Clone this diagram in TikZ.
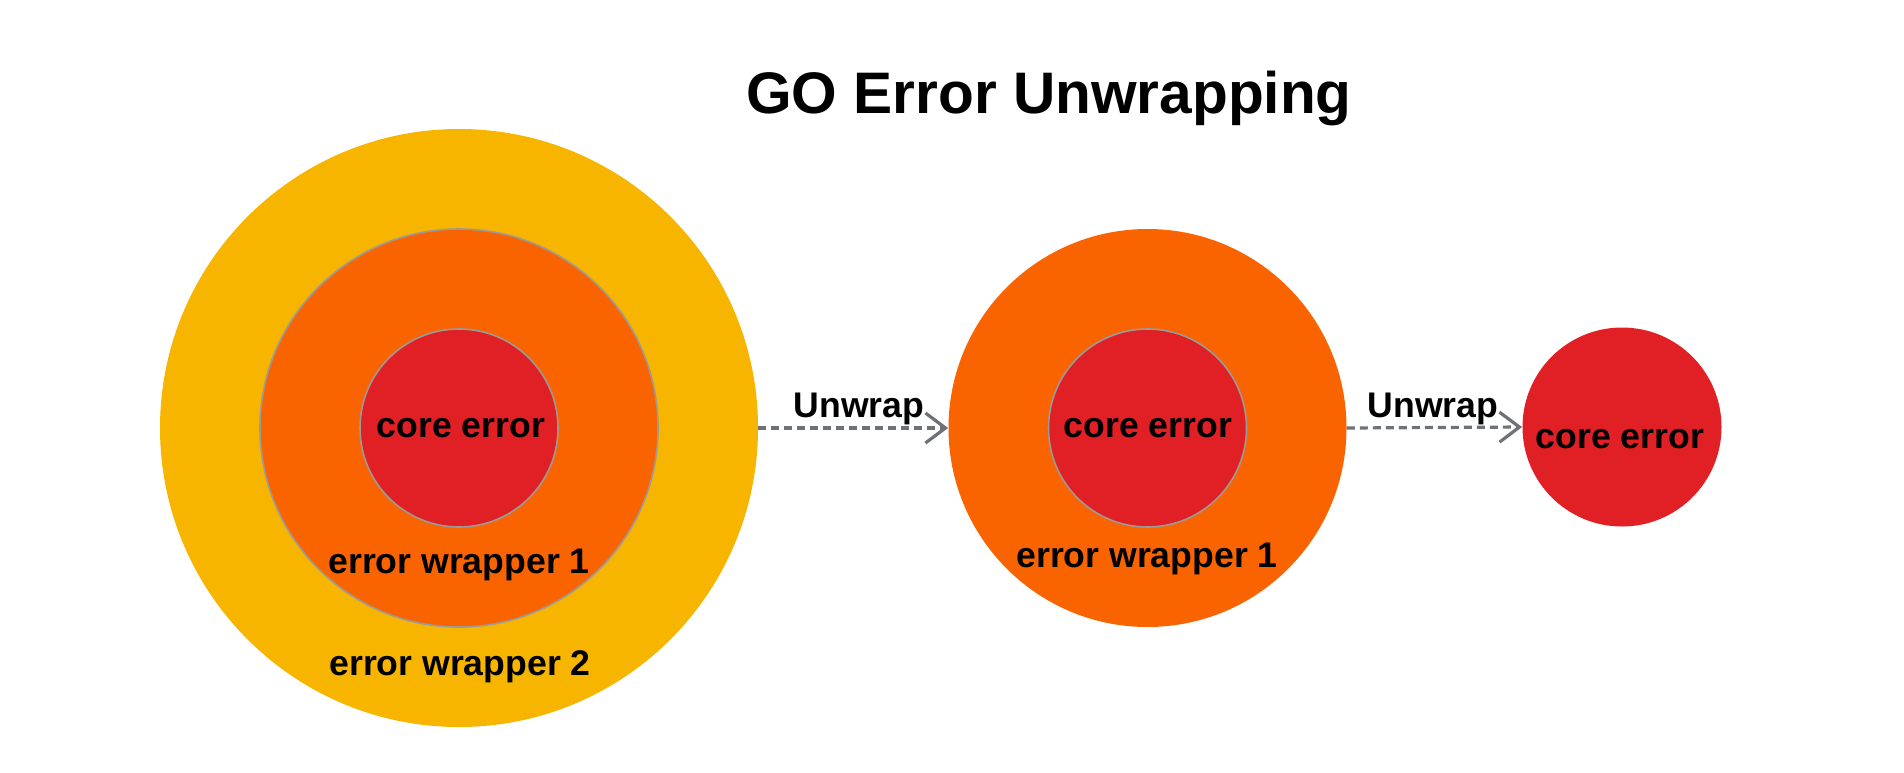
\documentclass[tikz,border=0pt]{standalone}
\usepackage{fontspec}
\setmainfont{Liberation Sans}
\usetikzlibrary{arrows.meta}
\definecolor{wrapyellow}{HTML}{F7B500}
\definecolor{wraporange}{HTML}{FA6400}
\definecolor{corered}{HTML}{E02024}
\definecolor{ringgray}{HTML}{9A9A9A}
\definecolor{arrowgray}{HTML}{6D7278}
\begin{document}
\begin{tikzpicture}[x=0.5pt, y=-0.5pt,
  layer/.style={circle, inner sep=0pt, minimum size=#1},
  ringline/.style={draw=ringgray, line width=0.8pt},
  caption/.style={font=\bfseries\fontsize{17.8}{20}\selectfont, anchor=base, inner sep=0pt},
  unwrap/.style={draw=arrowgray, line width=1.6pt, dash pattern=on 4pt off 2.5pt,
    -{Straight Barb[length=10pt, width=15pt, line width=1.6pt]}}
]
\useasboundingbox (0,0) rectangle (1904,772);

% title
\node[font=\bfseries\fontsize{29.3}{33}\selectfont, anchor=base, inner sep=0pt] (title) at (1049,113) {GO Error Unwrapping};

% error wrapped twice
\node[layer=299pt, fill=wrapyellow] (w2) at (459,428) {};
\node[layer=199pt, fill=wraporange, ringline] (w1a) at (459,428) {};
\node[layer=99pt, fill=corered, ringline] (ca) at (459,428) {};
\node[caption] (lca) at (461,437) {core error};
\node[caption] (lw1a) at (459,573) {error wrapper 1};
\node[caption] (lw2) at (460,675) {error wrapper 2};

% error wrapped once
\node[layer=199pt, fill=wraporange] (w1b) at (1147.5,428) {};
\node[layer=99pt, fill=corered, ringline] (cb) at (1147.5,428) {};
\node[caption] (lcb) at (1148,437) {core error};
\node[caption] (lw1b) at (1147,567) {error wrapper 1};

% bare core error
\node[layer=99.5pt, fill=corered] (cc) at (1622,427) {};
\node[caption] (lcc) at (1620,448) {core error};

% unwrap steps
\draw[unwrap] (w2.east) -- (w1b.west);
\draw[unwrap] (w1b.east) -- (cc.west);
\node[caption] (u1) at (859,417) {Unwrap};
\node[caption] (u2) at (1433,417) {Unwrap};
\end{tikzpicture}
\end{document}
